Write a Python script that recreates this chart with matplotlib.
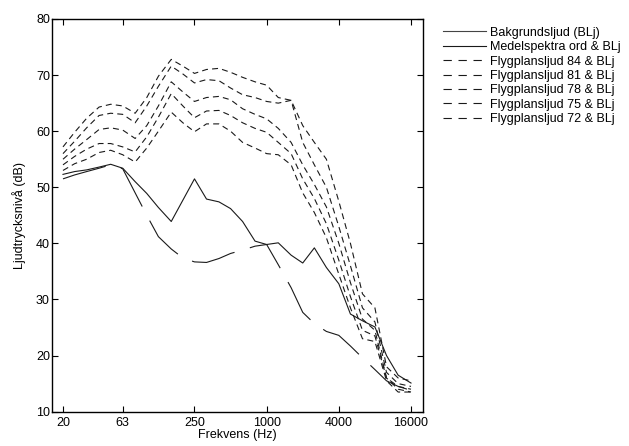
import matplotlib
matplotlib.use("Agg")
import matplotlib.pyplot as plt
from matplotlib.lines import Line2D
from matplotlib.ticker import FixedLocator, FixedFormatter, NullLocator

plt.rcParams['font.family'] = ['Liberation Sans', 'DejaVu Sans']
plt.rcParams['lines.scale_dashes'] = False

# Third-octave band centre frequencies (Hz)
freqs = [20, 25, 31.5, 40, 50, 63, 80, 100, 125, 160, 200, 250, 315, 400, 500,
         630, 800, 1000, 1250, 1600, 2000, 2500, 3150, 4000, 5000, 6300, 8000,
         10000, 12500, 16000]

# Sound pressure levels (dB) per band
bakgrund = [51.5, 52.2, 52.8, 53.4, 54.0, 53.3, 49.0, 45.0, 41.2, 39.0, 37.4,
            36.7, 36.6, 37.3, 38.2, 38.8, 39.5, 39.8, 36.2, 32.1, 27.7, 25.7,
            24.3, 23.6, 21.7, 19.6, 17.5, 15.5, 14.5, 13.8]
medelspektra = [52.3, 52.8, 53.1, 53.6, 54.1, 53.4, 51.0, 48.9, 46.4, 43.9, 47.7,
                51.5, 47.9, 47.4, 46.2, 43.9, 40.4, 39.8, 40.1, 37.9, 36.5, 39.2,
                35.7, 32.8, 27.4, 26.2, 25.1, 20.0, 16.5, 15.1]
flyg84 = [57.2, 59.8, 62.3, 64.3, 64.8, 64.5, 63.2, 66.0, 69.8, 72.8, 71.6, 70.3,
          71.0, 71.2, 70.5, 69.6, 68.8, 68.2, 66.0, 65.5, 61.0, 58.0, 55.0, 47.5,
          40.0, 31.0, 28.5, 18.0, 16.0, 15.5]
flyg81 = [56.0, 58.2, 60.6, 62.8, 63.2, 63.0, 61.5, 64.5, 68.0, 71.6, 70.2, 68.6,
          69.2, 69.0, 67.7, 66.5, 66.0, 65.3, 65.0, 65.5, 58.0, 54.0, 50.0, 43.0,
          36.0, 28.5, 26.0, 17.0, 15.0, 14.5]
flyg78 = [55.0, 56.8, 58.5, 60.3, 60.6, 60.2, 58.7, 61.0, 64.5, 68.8, 67.0, 65.3,
          66.0, 66.2, 65.6, 64.0, 63.0, 62.2, 60.5, 58.0, 54.0, 50.5, 46.5, 40.0,
          33.0, 26.5, 24.5, 16.0, 14.5, 14.0]
flyg75 = [54.0, 55.5, 56.8, 57.8, 57.8, 57.2, 56.3, 59.0, 62.5, 66.7, 64.5, 62.4,
          63.6, 63.7, 62.8, 61.5, 60.5, 59.8, 58.0, 56.0, 51.5, 48.0, 43.5, 37.0,
          30.5, 24.5, 23.5, 16.0, 14.0, 13.5]
flyg72 = [53.0, 54.2, 55.0, 56.2, 56.6, 55.8, 54.5, 57.0, 60.0, 63.4, 61.5, 59.9,
          61.3, 61.3, 60.0, 58.0, 57.0, 56.0, 55.8, 54.0, 49.0, 45.5, 41.0, 34.5,
          28.5, 23.0, 22.5, 15.5, 13.5, 13.5]

labels = ["Bakgrundsljud (BLj)", "Medelspektra ord & BLj",
          "Flygplansljud 84 & BLj", "Flygplansljud 81 & BLj",
          "Flygplansljud 78 & BLj", "Flygplansljud 75 & BLj",
          "Flygplansljud 72 & BLj"]

xtick_vals = [20, 63, 250, 1000, 4000, 16000]
xtick_labels = ["20", "63", "250", "1000", "4000", "16000"]
ytick_vals = [10, 20, 30, 40, 50, 60, 70, 80]

fig = plt.figure(figsize=(6.29, 4.46), dpi=100)
ax = fig.add_axes([0.0827, 0.0770, 0.5898, 0.8804])

lc = '#1a1a1a'
lw = 0.8
long_dash = (0, (32, 11.5))
short_dash = (0, (4.3, 3.0))
legend_dash = (0, (6.0, 4.8))

ax.plot(freqs, bakgrund, color=lc, lw=lw, linestyle=long_dash)
ax.plot(freqs, medelspektra, color=lc, lw=lw, linestyle='-')
for series in [flyg84, flyg81, flyg78, flyg75, flyg72]:
    ax.plot(freqs, series, color=lc, lw=lw, linestyle=short_dash)

ax.set_xscale('log')
ax.set_xlim(16.2, 20150)
ax.set_ylim(10, 80)
ax.xaxis.set_major_locator(FixedLocator(xtick_vals))
ax.xaxis.set_major_formatter(FixedFormatter(xtick_labels))
ax.xaxis.set_minor_locator(NullLocator())
ax.set_yticks(ytick_vals)

ax.tick_params(direction='in', length=4, width=0.8, top=True, right=True,
               labelsize=9)
ax.tick_params(axis='x', pad=3.5)
ax.tick_params(axis='y', pad=1.5)
for sp in ax.spines.values():
    sp.set_linewidth(1.0)

ax.set_xlabel("Frekvens (Hz)", fontsize=9, labelpad=0.5)
ax.set_ylabel("Ljudtrycksnivå (dB)", fontsize=9, labelpad=7.5)

# Legend keys: two solid lines, then the dashed aircraft series
handles = [Line2D([], [], color='#444444', lw=lw, linestyle='-'),
           Line2D([], [], color=lc, lw=lw, linestyle='-')]
handles += [Line2D([], [], color=lc, lw=lw, linestyle=legend_dash)
            for _ in range(5)]

fig.legend(handles, labels, loc='upper left', bbox_to_anchor=(0.705, 0.94),
           frameon=False, fontsize=9, handlelength=3.44, handletextpad=0.25,
           labelspacing=0.19, borderpad=0, borderaxespad=0)

fig.savefig("out.png", dpi=100)
